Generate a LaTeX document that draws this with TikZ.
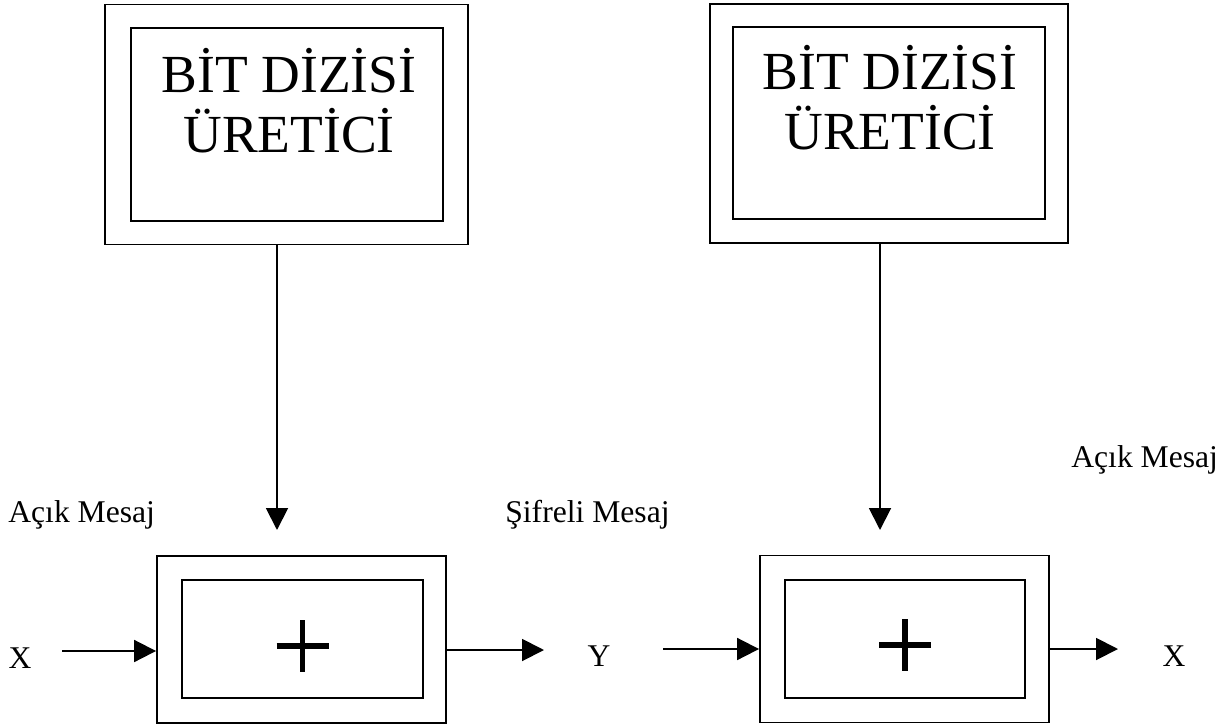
\documentclass[tikz,border=0pt]{standalone}
\usepackage{fontspec}
\setmainfont{Liberation Serif}
\usetikzlibrary{arrows.meta,positioning}

\tikzset{
  box/.style={draw, line width=1.1pt, inner sep=0pt},
  flow/.style={line width=1.1pt, -{Triangle[length=12.5pt,width=12.5pt]}},
  sign/.style={line width=3.2pt},
  title/.style={align=center, inner sep=0pt, font=\fontsize{30.5}{34}\selectfont},
  label/.style={inner sep=0pt, font=\fontsize{18}{21}\selectfont}
}

\begin{document}
\begin{tikzpicture}[x=0.02cm, y=-0.02cm]

    \useasboundingbox (0,0) rectangle (1224,727);

    % BIT GENERATORS
    \node[box, minimum width=7.26cm, minimum height=4.8cm] (genL) at (286.5,124.5) {};
    \node[box, minimum width=6.24cm, minimum height=3.86cm] (genLin) at (287,124.5) {};
    \node[title, anchor=base] (txtL) at (289,152) {BİT DİZİSİ\\ÜRETİCİ};

    \node[box, minimum width=7.16cm, minimum height=4.78cm] (genR) at (889,123.5) {};
    \node[box, minimum width=6.24cm, minimum height=3.84cm] (genRin) at (889,123) {};
    \node[title, anchor=base] (txtR) at (890,149) {BİT DİZİSİ\\ÜRETİCİ};

    % XOR BOXES
    \node[box, minimum width=5.78cm, minimum height=3.34cm] (xorL) at (301.5,639.5) {};
    \node[box, minimum width=4.82cm, minimum height=2.36cm] (xorLin) at (302.5,639) {};
    \node[box, minimum width=5.78cm, minimum height=3.34cm] (xorR) at (904.5,639) {};
    \node[box, minimum width=4.80cm, minimum height=2.36cm] (xorRin) at (905,639) {};

    % PLUS SIGNS
    \draw[sign] ([shift={(-26,7)}]xorLin.center) -- ++(52,0);
    \draw[sign] ([shift={(0,-19)}]xorLin.center) -- ++(0,52);
    \draw[sign] ([shift={(-26,6)}]xorRin.center) -- ++(52,0);
    \draw[sign] ([shift={(0,-20)}]xorRin.center) -- ++(0,52);

    % LABELS
    \node[label, anchor=base west] (openL) at (8,522) {Açık Mesaj};
    \node[label, anchor=base west] (ciph) at (505,522) {Şifreli Mesaj};
    \node[label, anchor=base west] (openR) at (1071,467) {Açık Mesaj};
    \node[label, anchor=base] (xIn) at (20,668) {X};
    \node[label, anchor=base] (yMid) at (599,666) {Y};
    \node[label, anchor=base] (xOut) at (1174,666) {X};

    % ARROWS
    \coordinate (tipL) at (277,530);
    \coordinate (tipR) at (880,530);
    \draw[flow] (genL.south -| tipL) -- (tipL);
    \draw[flow] (genR.south -| tipR) -- (tipR);

    \coordinate (aL) at (62,651);
    \coordinate (bL) at (544,650);
    \coordinate (cR) at (663,649);
    \coordinate (dR) at (1118,649);
    \draw[flow] (aL) -- (aL -| xorL.west);
    \draw[flow] (xorL.east |- bL) -- (bL);
    \draw[flow] (cR) -- (cR -| xorR.west);
    \draw[flow] (xorR.east |- dR) -- (dR);

\end{tikzpicture}
\end{document}
